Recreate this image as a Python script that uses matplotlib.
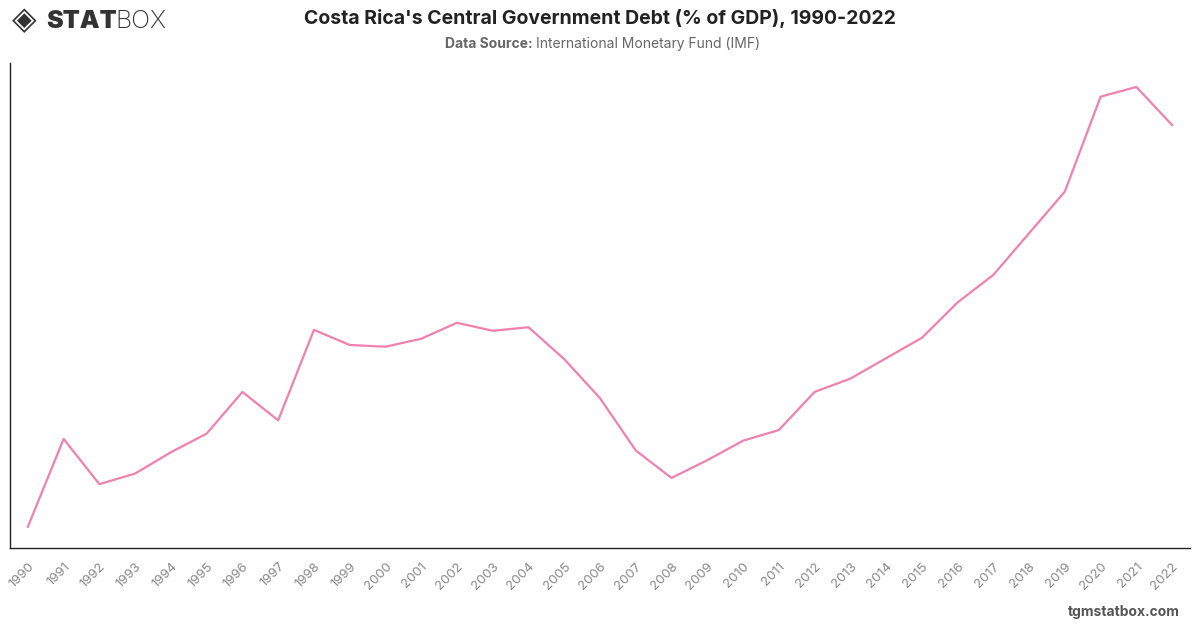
import matplotlib.pyplot as plt

years = [str(y) for y in range(1990, 2023)]
debt = [18.6, 28.5, 23.4, 24.6, 27.0, 29.1, 33.8, 30.6, 40.8, 39.1,
        38.9, 39.8, 41.6, 40.7, 41.1, 37.5, 33.1, 27.2, 24.1, 26.1,
        28.3, 29.5, 33.8, 35.3, 37.6, 39.9, 43.9, 47.0, 51.7, 56.4,
        67.1, 68.2, 63.9]

plt.rcParams['font.family'] = ['Inter', 'DejaVu Sans']

fig = plt.figure(figsize=(12, 6.28), dpi=100)
ax = fig.add_axes([10 / 1200, 1 - 548 / 628, 1180 / 1200, 485 / 628])

x = list(range(len(years)))
ax.plot(x, debt, color='#f080b0', lw=1.6)

ax.set_xlim(-0.5, len(years) - 0.5)
ax.set_ylim(16.2, 70.9)
ax.set_xticks(x)
ax.set_xticklabels(years, rotation=45, ha='right', rotation_mode='anchor',
                   color='#888888', fontsize=9.5)
ax.tick_params(axis='x', length=0, pad=9)
ax.set_yticks([])
ax.spines['top'].set_visible(False)
ax.spines['right'].set_visible(False)
for s in ('left', 'bottom'):
    ax.spines[s].set_color('#222222')
    ax.spines[s].set_linewidth(1)

# header
fig.text(0.5, 1 - 18 / 628, "Costa Rica's Central Government Debt (% of GDP), 1990-2022",
         ha='center', va='center', fontsize=14, fontweight='bold', color='#222222')
fig.text(445 / 1200, 1 - 44 / 628, "Data Source:", ha='left', va='center',
         fontsize=10, fontweight='bold', color='#666666')
fig.text(536 / 1200, 1 - 44 / 628, "International Monetary Fund (IMF)", ha='left',
         va='center', fontsize=10, color='#666666')

# logo
fig.text(12 / 1200, 1 - 21 / 628, "◈", family='DejaVu Sans', ha='left', va='center',
         fontsize=23, color='#333333')
fig.text(46 / 1200, 1 - 21 / 628, "STAT", ha='left', va='center', fontsize=18,
         fontweight='black', color='#333333')
fig.text(115 / 1200, 1 - 21 / 628, "BOX", ha='left', va='center', fontsize=18,
         fontweight='light', color='#333333')

# footer
fig.text(1180 / 1200, 1 - 612 / 628, "tgmstatbox.com", ha='right', va='center',
         fontsize=10, fontweight='bold', color='#555555')

fig.savefig('out.png', dpi=100)
